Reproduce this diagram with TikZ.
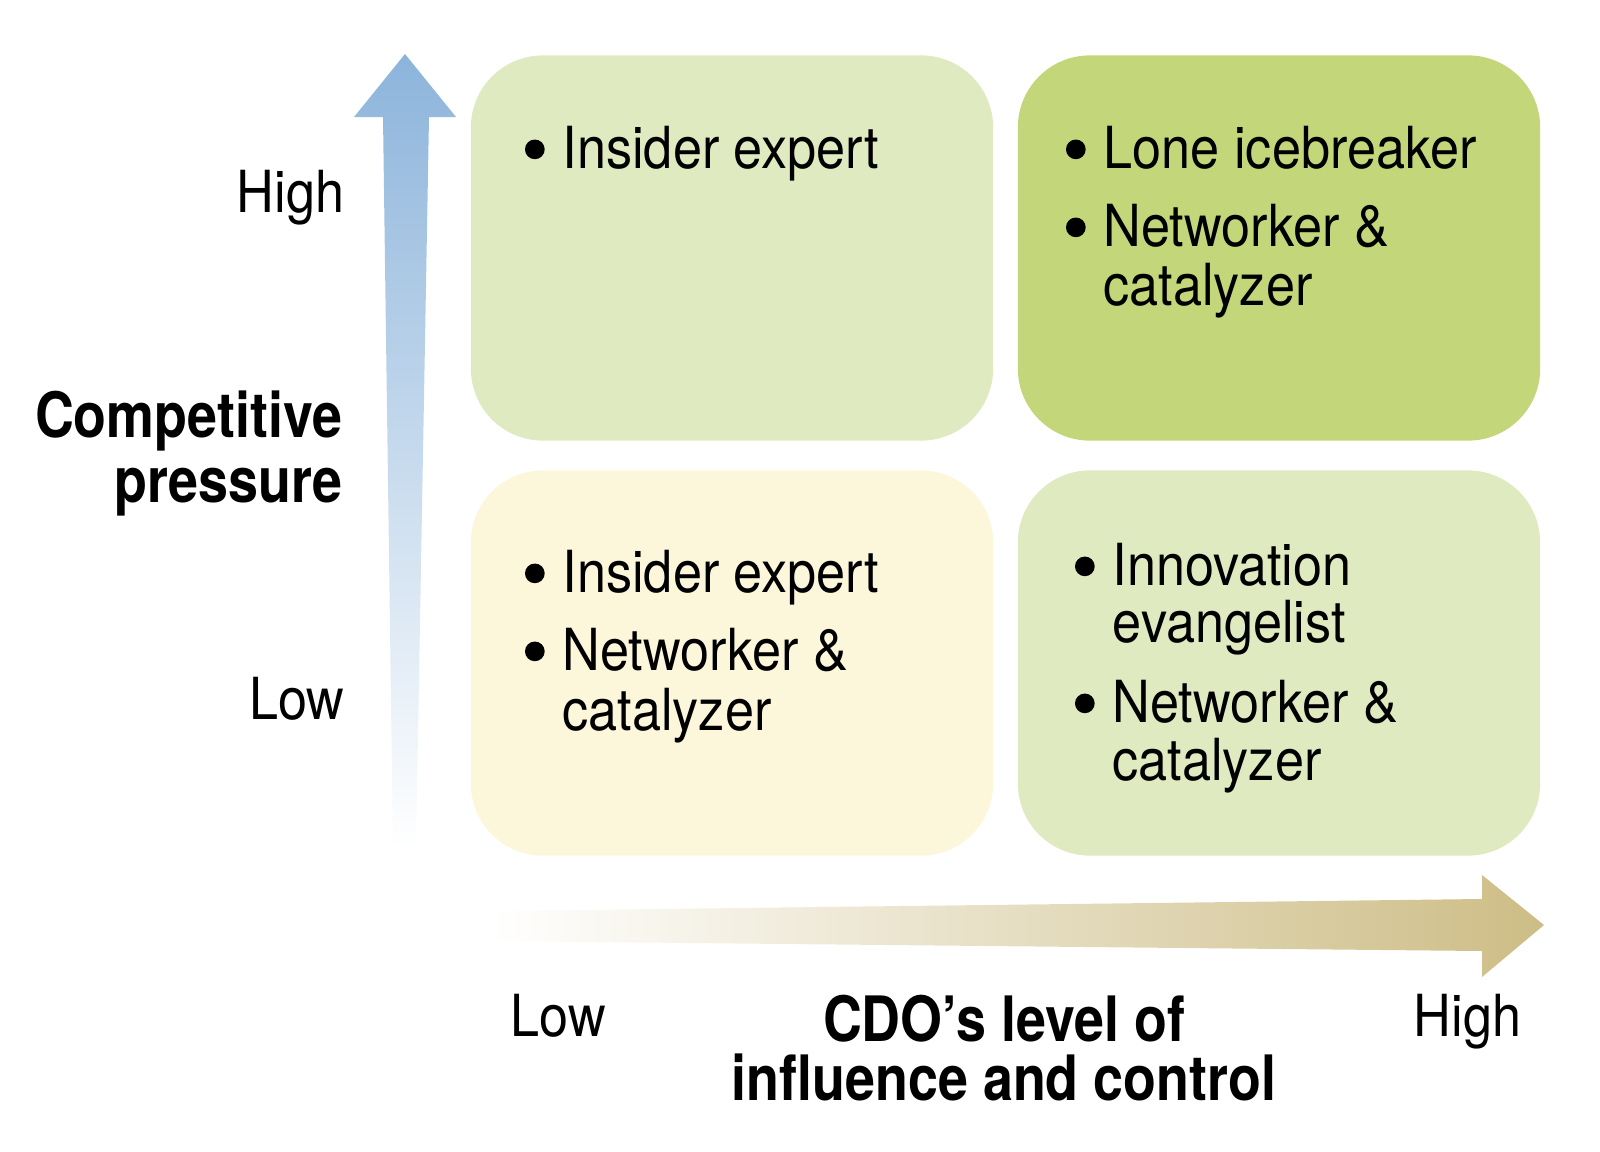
\documentclass[tikz,border=0pt]{standalone}
\usepackage{fontspec}
\setmainfont{TeX Gyre Heros}[FakeStretch=0.9]
\newfontfamily\axisfont{TeX Gyre Heros}[FakeStretch=0.86]
\definecolor{cellpale}{HTML}{E0EAC0}
\definecolor{cellstrong}{HTML}{C4D67A}
\definecolor{cellcream}{HTML}{FCF7DA}
\definecolor{axisblue}{HTML}{8CB4DB}
\definecolor{axismid}{HTML}{B4CEE8}
\definecolor{axistan}{HTML}{CDBD86}
\newcommand{\bul}{\llap{\tikz[baseline=-5.3pt] \fill (0,0) circle (2.8pt);\hspace{1.8mm}}}
\tikzset{
  cell/.style={minimum width=5.22cm, minimum height=3.85cm, rounded corners=0.72cm, inner sep=0pt},
  entry/.style={anchor=base west, inner sep=0pt, font=\fontsize{16.5}{18}\selectfont},
  tick/.style={inner sep=0pt, font=\fontsize{16.5}{18}\selectfont},
  axislabel/.style={inner sep=0pt, font=\axisfont\bfseries\fontsize{17.8}{20}\selectfont}
}
\begin{document}
\begin{tikzpicture}[x=0.01cm, y=-0.01cm]
\useasboundingbox (0,0) rectangle (1600,1151);
\shade [top color=axisblue, middle color=axismid, bottom color=white]
  (405,54) -- (456,117) -- (429,117) -- (416,847) -- (393,847) -- (383,117) -- (354,117) -- cycle;
\shade [left color=white, right color=axistan]
  (490,911) -- (1482,899) -- (1482,875) -- (1544,925) -- (1482,977) -- (1482,951) -- (490,941) -- cycle;
\node [cell, fill=cellpale] (highlow) at (732,248) {};
\node [cell, fill=cellstrong] (highhigh) at (1279,248) {};
\node [cell, fill=cellcream] (lowlow) at (732,663) {};
\node [cell, fill=cellpale] (lowhigh) at (1279,663) {};
\node [entry] (hl1) at (562,168) {\bul Insider expert};
\node [entry] (hh1) at (1103,168) {\bul Lone icebreaker};
\node [entry] (hh2) at (1103,246) {\bul Networker \&};
\node [entry] (hh3) at (1103,305) {catalyzer};
\node [entry] (ll1) at (562,592) {\bul Insider expert};
\node [entry] (ll2) at (562,670) {\bul Networker \&};
\node [entry] (ll3) at (562,730) {catalyzer};
\node [entry] (lh1) at (1112,585) {\bul Innovation};
\node [entry] (lh2) at (1112,642) {evangelist};
\node [entry] (lh3) at (1112,722) {\bul Networker \&};
\node [entry] (lh4) at (1112,780) {catalyzer};
\node [tick, anchor=base east] (yhigh) at (345,212) {High};
\node [tick, anchor=base east] (ylow) at (345,719) {Low};
\node [axislabel, anchor=base east] (ytitle1) at (343,437) {Competitive};
\node [axislabel, anchor=base east] (ytitle2) at (343,502) {pressure};
\node [tick, anchor=base west] (xlow) at (510,1036) {Low};
\node [tick, anchor=base east] (xhigh) at (1522,1036) {High};
\node [axislabel, anchor=base] (xtitle1) at (1004,1041) {CDO’s level of};
\node [axislabel, anchor=base] (xtitle2) at (1004,1100) {influence and control};
\end{tikzpicture}
\end{document}
